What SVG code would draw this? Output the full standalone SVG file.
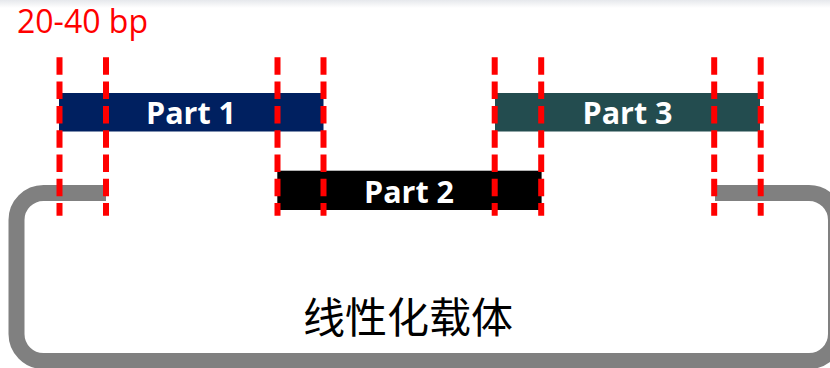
<svg xmlns="http://www.w3.org/2000/svg" width="830" height="368" viewBox="0 0 830 368">
<defs>
<linearGradient id="topfade" x1="0" y1="0" x2="0" y2="1">
<stop offset="0" stop-color="#e6e8ec"/>
<stop offset="1" stop-color="#ffffff"/>
</linearGradient>
</defs>
<style>
.part{font-family:"Open Sans","Liberation Sans",sans-serif;font-weight:bold;font-size:30.5px;fill:#ffffff;text-anchor:middle}
.cut{stroke:#ff0000;stroke-width:6;stroke-dasharray:17.5 6.8;fill:none}
.vec{stroke:#808080;stroke-width:16;fill:none}
</style>
<rect x="0" y="0" width="830" height="368" fill="#ffffff"/>
<rect x="0" y="0" width="830" height="8" fill="url(#topfade)"/>
<text x="17" y="33" font-family="'Open Sans','Liberation Sans',sans-serif" font-size="32" fill="#ff0000">20-40 bp</text>
<g id="vector">
<path class="vec" d="M106 193 H43.5 A27 27 0 0 0 16.5 220 V334 A27 27 0 0 0 43.5 361 H809 A27 27 0 0 0 836 334 V220 A27 27 0 0 0 809 193 H715"/>
<text x="408" y="333" font-family="'Noto Sans CJK SC',sans-serif" font-size="42" fill="#000000" text-anchor="middle">线性化载体</text>
</g>
<g id="part1">
<rect x="59" y="93" width="264.5" height="38.5" fill="#002060"/>
<text class="part" x="191" y="124.3">Part 1</text>
</g>
<g id="part2">
<rect x="277.3" y="170.7" width="264.3" height="39.3" fill="#000000"/>
<text class="part" x="409" y="203.3">Part 2</text>
</g>
<g id="part3">
<rect x="495" y="93" width="265" height="38.5" fill="#234c4f"/>
<text class="part" x="627.5" y="124.3">Part 3</text>
</g>
<g id="connectors">
<line class="cut" x1="59.5" y1="57.3" x2="59.5" y2="215.7"/>
<line class="cut" x1="106" y1="57.3" x2="106" y2="215.7"/>
<line class="cut" x1="277.5" y1="57.3" x2="277.5" y2="215.7"/>
<line class="cut" x1="323.5" y1="57.3" x2="323.5" y2="215.7"/>
<line class="cut" x1="494.7" y1="57.3" x2="494.7" y2="215.7"/>
<line class="cut" x1="541.2" y1="57.3" x2="541.2" y2="215.7"/>
<line class="cut" x1="714.2" y1="57.3" x2="714.2" y2="215.7"/>
<line class="cut" x1="760.7" y1="57.3" x2="760.7" y2="215.7"/>
</g>
</svg>
